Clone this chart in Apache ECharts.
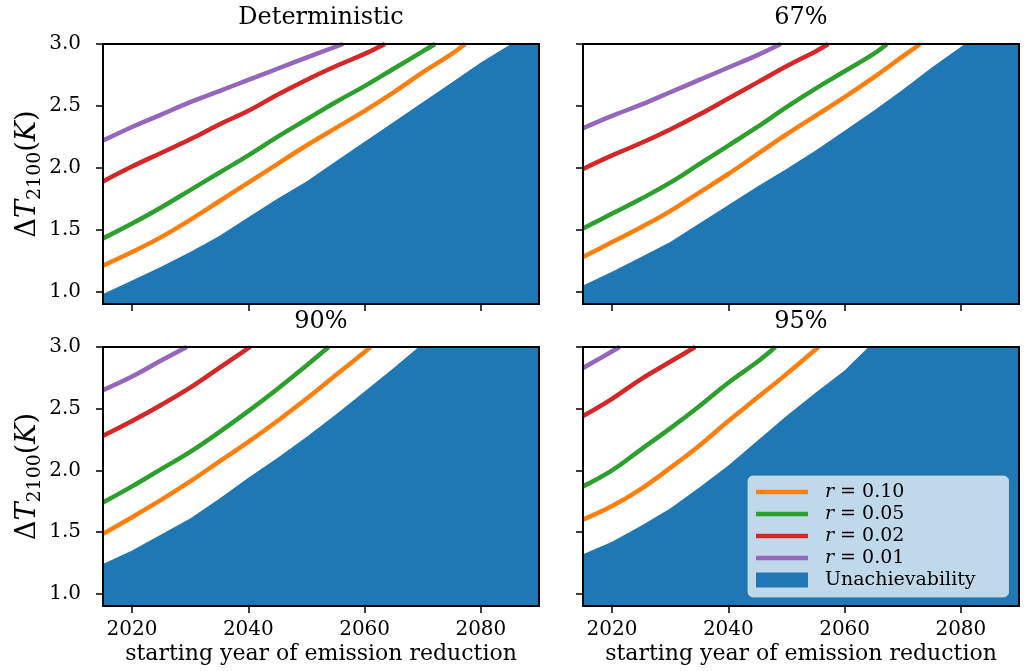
<!DOCTYPE html>
<html>
<head>
<meta charset="utf-8">
<script src="https://cdn.jsdelivr.net/npm/echarts@6/dist/echarts.min.js"></script>
<style>
  html, body { margin: 0; padding: 0; background: #fff; }
  #chart { width: 1026px; height: 671px; }
</style>
</head>
<body>
<div id="chart"></div>
<script>
// tick labels
var xTicks = [2020, 2040, 2060, 2080];
var yTicks = [1.0, 1.5, 2.0, 2.5, 3.0];
var panelTitles = ['Deterministic', '67%', '90%', '95%'];
var seriesNames = ['r = 0.10', 'r = 0.05', 'r = 0.02', 'r = 0.01'];
var areaName = 'Unachievability';

// Deterministic
var detBlue = [[2015,0.98],[2020,1.09],[2025,1.20],[2030,1.32],[2035,1.45],[2040,1.60],[2045,1.75],[2050,1.89],[2055,2.05],[2060,2.21],[2065,2.37],[2070,2.53],[2075,2.69],[2080,2.85],[2085.2,3.0],[2090,3.0]];
var detR10 = [[2015,1.21],[2020,1.32],[2025,1.44],[2030,1.58],[2035,1.73],[2040,1.88],[2045,2.03],[2050,2.18],[2055,2.32],[2060,2.46],[2065,2.61],[2070,2.77],[2075,2.92],[2077.3,3.0]];
var detR05 = [[2015,1.43],[2020,1.55],[2025,1.68],[2030,1.82],[2035,1.96],[2040,2.10],[2045,2.25],[2050,2.39],[2055,2.53],[2060,2.66],[2065,2.80],[2070,2.94],[2072.1,3.0]];
var detR02 = [[2015,1.89],[2020,2.01],[2025,2.12],[2030,2.23],[2035,2.35],[2040,2.46],[2045,2.59],[2050,2.71],[2055,2.82],[2060,2.92],[2063.5,3.0]];
var detR01 = [[2015,2.22],[2020,2.33],[2025,2.43],[2030,2.53],[2035,2.62],[2040,2.71],[2045,2.80],[2050,2.89],[2056.3,3.0]];

// 67%
var p67Blue = [[2015,1.05],[2020,1.16],[2025,1.28],[2030,1.40],[2035,1.55],[2040,1.70],[2045,1.85],[2050,1.99],[2055,2.14],[2060,2.30],[2065,2.46],[2070,2.63],[2075,2.81],[2080.7,3.0],[2090,3.0]];
var p67R10 = [[2015,1.28],[2020,1.40],[2025,1.52],[2030,1.65],[2035,1.80],[2040,1.95],[2045,2.11],[2050,2.27],[2055,2.42],[2060,2.57],[2065,2.73],[2070,2.90],[2073,3.0]];
var p67R05 = [[2015,1.51],[2020,1.63],[2025,1.75],[2030,1.88],[2035,2.03],[2040,2.18],[2045,2.33],[2050,2.49],[2055,2.64],[2060,2.78],[2065,2.92],[2067.3,3.0]];
var p67R02 = [[2015,1.99],[2020,2.10],[2025,2.20],[2030,2.31],[2035,2.43],[2040,2.56],[2045,2.69],[2050,2.82],[2055,2.94],[2057.2,3.0]];
var p67R01 = [[2015,2.32],[2020,2.42],[2025,2.51],[2030,2.61],[2035,2.71],[2040,2.81],[2045,2.91],[2049,3.0]];

// 90%
var p90Blue = [[2015,1.24],[2020,1.35],[2025,1.48],[2030,1.61],[2035,1.77],[2040,1.94],[2045,2.10],[2050,2.27],[2055,2.45],[2060,2.64],[2065,2.83],[2069.3,3.0],[2090,3.0]];
var p90R10 = [[2015,1.485],[2020,1.62],[2025,1.76],[2030,1.91],[2035,2.07],[2040,2.23],[2045,2.40],[2050,2.58],[2055,2.77],[2060,2.96],[2061,3.0]];
var p90R05 = [[2015,1.74],[2020,1.87],[2025,2.01],[2030,2.15],[2035,2.31],[2040,2.48],[2045,2.66],[2050,2.85],[2053.8,3.0]];
var p90R02 = [[2015,2.28],[2020,2.40],[2025,2.53],[2030,2.67],[2035,2.83],[2040.3,3.0]];
var p90R01 = [[2015,2.65],[2020,2.76],[2025,2.89],[2029.4,3.0]];

// 95%
var p95Blue = [[2015,1.32],[2020,1.42],[2025,1.55],[2030,1.69],[2035,1.86],[2040,2.04],[2045,2.24],[2050,2.44],[2055,2.63],[2060,2.81],[2064.1,3.0],[2090,3.0]];
var p95R10 = [[2015,1.60],[2020,1.71],[2025,1.85],[2030,2.02],[2035,2.20],[2040,2.40],[2045,2.59],[2050,2.78],[2055.5,3.0]];
var p95R05 = [[2015,1.87],[2020,2.00],[2025,2.17],[2030,2.34],[2035,2.52],[2040,2.71],[2045,2.88],[2048.1,3.0]];
var p95R02 = [[2015,2.44],[2020,2.58],[2025,2.74],[2030,2.88],[2034.3,3.0]];
var p95R01 = [[2015,2.83],[2018,2.91],[2021.3,3.0]];

var panelAreas = [detBlue, p67Blue, p90Blue, p95Blue];
var panelLines = [
  [detR10, detR05, detR02, detR01],
  [p67R10, p67R05, p67R02, p67R01],
  [p90R10, p90R05, p90R02, p90R01],
  [p95R10, p95R05, p95R02, p95R01]
];

var lineColors = ['#ff7f0e', '#2ca02c', '#d62728', '#9467bd'];
var blue = '#1f77b4';
var serif = 'DejaVu Serif';

var grids = [
  {left: 103, top: 44, width: 436, height: 260},
  {left: 583, top: 44, width: 436, height: 260},
  {left: 103, top: 347, width: 436, height: 259},
  {left: 583, top: 347, width: 436, height: 259}
];
var titlePos = [[321, 6], [801, 6], [321, 310], [801, 310]];

var dom = document.getElementById('chart');
var myChart = echarts.init(dom, null, {renderer: 'canvas'});

var option = {
  animation: false,
  backgroundColor: '#fff',
  title: [],
  grid: [],
  xAxis: [],
  yAxis: [],
  series: []
};

for (var i = 0; i < 4; i++) {
  var g = grids[i];
  option.grid.push({
    left: g.left, top: g.top, width: g.width, height: g.height,
    show: true, borderColor: '#000', borderWidth: 2,
    backgroundColor: 'transparent', z: 5
  });
  option.title.push({
    text: panelTitles[i],
    left: titlePos[i][0], top: titlePos[i][1],
    textAlign: 'center', padding: 0,
    textStyle: {fontFamily: serif, fontSize: 24, fontWeight: 'normal', color: '#000'}
  });
  option.xAxis.push({
    type: 'value', gridIndex: i, min: 2015, max: 2090,
    axisLine: {show: false},
    splitLine: {show: false},
    axisTick: {show: true, length: 7, lineStyle: {color: '#000', width: 1.5}, customValues: xTicks},
    axisLabel: {
      show: i >= 2, customValues: xTicks, margin: 14,
      fontFamily: serif, fontSize: 20, color: '#000',
      formatter: function (v) { return String(v); }
    },
    name: i >= 2 ? 'starting year of emission reduction' : '',
    nameLocation: 'middle', nameGap: 37,
    nameTextStyle: {fontFamily: serif, fontSize: 22, color: '#000'},
    z: 6
  });
  option.yAxis.push({
    type: 'value', gridIndex: i, min: 0.9, max: 3.0,
    axisLine: {show: false},
    splitLine: {show: false},
    axisTick: {show: true, length: 7, lineStyle: {color: '#000', width: 1.5}, customValues: yTicks},
    axisLabel: {
      show: i % 2 === 0, customValues: yTicks, margin: 22,
      fontFamily: serif, fontSize: 20, color: '#000',
      formatter: function (v) { return v.toFixed(1); }
    },
    name: i % 2 === 0 ? '{n|Δ}{t|T}{s|2100}{n|(}{t|K}{n|)}' : '',
    nameLocation: 'middle', nameGap: 58,
    nameTextStyle: {
      fontFamily: serif, fontSize: 27, color: '#000',
      rich: {
        n: {fontFamily: serif, fontSize: 27, lineHeight: 34, verticalAlign: 'middle', color: '#000'},
        t: {fontFamily: serif, fontSize: 27, fontStyle: 'italic', lineHeight: 34, verticalAlign: 'middle', color: '#000'},
        s: {fontFamily: serif, fontSize: 19, lineHeight: 19, verticalAlign: 'bottom', color: '#000'}
      }
    },
    z: 6
  });

  option.series.push({
    type: 'line', name: areaName, xAxisIndex: i, yAxisIndex: i,
    data: panelAreas[i], symbol: 'none', smooth: false,
    lineStyle: {width: 0, color: blue}, itemStyle: {color: blue},
    areaStyle: {color: blue, opacity: 1, origin: 'start'},
    silent: true, z: 1
  });
  for (var k = 0; k < 4; k++) {
    option.series.push({
      type: 'line', name: seriesNames[k], xAxisIndex: i, yAxisIndex: i,
      data: panelLines[i][k], symbol: 'none', smooth: 0.4,
      lineStyle: {width: 4.5, color: lineColors[k]}, itemStyle: {color: lineColors[k]},
      silent: true, z: 3
    });
  }
}

var lineIcon = 'path://M0,0H52V4.5H0Z';
option.legend = {
  orient: 'vertical', left: 748, top: 476,
  padding: [5, 33, 6, 8], itemGap: 0,
  itemWidth: 52, itemHeight: 15, selectedMode: false,
  backgroundColor: 'rgba(255,255,255,0.72)',
  borderColor: 'rgba(215,215,215,0.8)', borderWidth: 1, borderRadius: 5,
  itemStyle: {borderWidth: 0},
  data: [
    {name: seriesNames[0], icon: lineIcon},
    {name: seriesNames[1], icon: lineIcon},
    {name: seriesNames[2], icon: lineIcon},
    {name: seriesNames[3], icon: lineIcon},
    {name: areaName, icon: 'rect'}
  ],
  formatter: function (name) {
    if (name.charAt(0) === 'r') return '{g|}{i|r}{n|' + name.slice(1) + '}';
    return '{g|}{n|' + name + '}';
  },
  textStyle: {
    fontFamily: serif, fontSize: 19, color: '#000', lineHeight: 22,
    rich: {
      g: {width: 12, lineHeight: 22},
      i: {fontFamily: serif, fontSize: 19, fontStyle: 'italic', lineHeight: 22, color: '#000'},
      n: {fontFamily: serif, fontSize: 19, lineHeight: 22, color: '#000'}
    }
  }
};

if (option && typeof option === 'object') {
  myChart.setOption(option, true);
}
</script>
</body>
</html>
